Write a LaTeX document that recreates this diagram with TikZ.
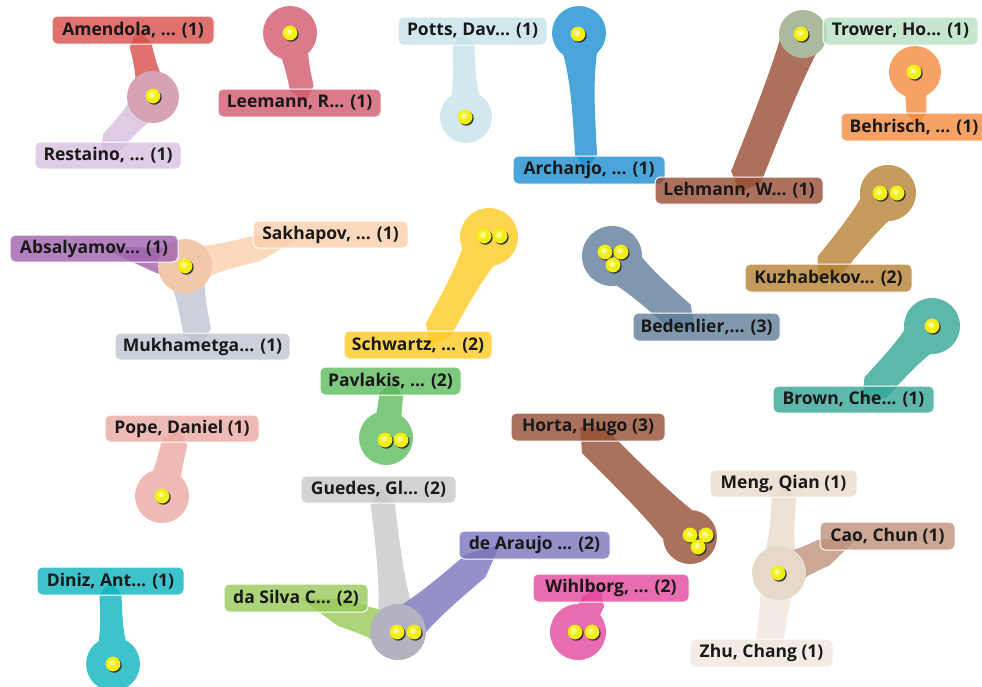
\documentclass[tikz,border=0pt]{standalone}
\usepackage{fontspec}
\setmainfont{Open Sans}
\usetikzlibrary{calc}
\pgfdeclarelayer{stems}
\pgfsetlayers{stems,main}
% base colours (boxes drawn at 80% opacity)
\definecolor{cAm}{HTML}{D84D4A}
\definecolor{cRe}{HTML}{D7BFDE}
\definecolor{cLe}{HTML}{D2596D}
\definecolor{cPo}{HTML}{C7E1EA}
\definecolor{cAr}{HTML}{1D90D1}
\definecolor{cTr}{HTML}{B8E0C3}
\definecolor{cLh}{HTML}{984C33}
\definecolor{cBe}{HTML}{F58B3D}
\definecolor{cKu}{HTML}{B58233}
\definecolor{cSa}{HTML}{FBCEAB}
\definecolor{cAb}{HTML}{9F63AE}
\definecolor{cMu}{HTML}{BEC4D1}
\definecolor{cSc}{HTML}{FFCA23}
\definecolor{cBd}{HTML}{607D98}
\definecolor{cBr}{HTML}{34A696}
\definecolor{cPa}{HTML}{5CBB5C}
\definecolor{cPp}{HTML}{EAA9A2}
\definecolor{cHo}{HTML}{954F33}
\definecolor{cMe}{HTML}{E8DBCA}
\definecolor{cCa}{HTML}{C0917C}
\definecolor{cZh}{HTML}{F0E7DD}
\definecolor{cGu}{HTML}{C8C8C8}
\definecolor{cDA}{HTML}{7974BB}
\definecolor{cDS}{HTML}{98C959}
\definecolor{cWi}{HTML}{E3469C}
\definecolor{cDi}{HTML}{0EB4BF}
% mixed circle colours
\definecolor{mA}{HTML}{D5A2B6}
\definecolor{mE}{HTML}{ABBA9C}
\definecolor{mH}{HTML}{F1C8AA}
\definecolor{mO}{HTML}{E6D9C9}
\definecolor{mP}{HTML}{B3B2C1}
\definecolor{ballY}{HTML}{F2EE10}
\tikzset{
  lab/.style={rounded corners=5pt, minimum height=28pt, inner sep=0pt,
    font=\bfseries\fontsize{17.5}{20}\selectfont, text=black!90,
    draw=white, line width=1pt, fill opacity=0.8, text opacity=1},
  blob/.style={circle, inner sep=0pt, minimum size=#1}
}
% tapered stem: colour, circle node, tip coordinate, half width at circle,
% body half width, length of the final taper
\newcommand\stem[6]{%
  \coordinate (sE) at ($(#3)!#6!(#2.center)$);
  \fill[#1!80] ($(#2.center)!#4!90:(#3)$)
    .. controls ($(#2.center)!0.25!(sE)!#5!90:(sE)$) and ($(#2.center)!0.6!(sE)!#5!90:(sE)$)
    .. ($(sE)!#5!-90:(#2.center)$) -- (#3) -- ($(sE)!#5!90:(#2.center)$)
    .. controls ($(#2.center)!0.6!(sE)!#5!-90:(sE)$) and ($(#2.center)!0.25!(sE)!#5!-90:(sE)$)
    .. ($(#2.center)!#4!-90:(#3)$) -- cycle;}
\newcommand\yball[1]{%
  \fill[black!80] ($(#1)+(1.3,1.3)$) circle (7.4pt);
  \fill[ballY] (#1) circle (7.4pt);
  \shade[inner color=yellow!25!white, outer color=ballY] ($(#1)+(-1.4,-1.4)$) circle (4.6pt);}
\begin{document}
\begin{tikzpicture}[x=1pt,y=-1pt]
\useasboundingbox (0,0) rectangle (982,686);
% circles
\node[blob=52pt, fill=mA] (nA) at (153,97) {};
\node[blob=54pt, fill=cLe!80] (nB) at (290,33) {};
\node[blob=52pt, fill=cPo!80] (nC) at (466,117) {};
\node[blob=54pt, fill=cAr!80] (nD) at (579,33) {};
\node[blob=48pt, fill=mE] (nE) at (803,34) {};
\node[blob=52pt, fill=cBe!80] (nF) at (915,72) {};
\node[blob=56pt, fill=cKu!80] (nG) at (888,193) {};
\node[blob=54pt, fill=mH] (nH) at (185,266) {};
\node[blob=58pt, fill=cSc!80] (nI) at (489,237) {};
\node[blob=60pt, fill=cBd!80] (nJ) at (612,256) {};
\node[blob=56pt, fill=cBr!80] (nK) at (932,326) {};
\node[blob=54pt, fill=cPa!80] (nL) at (386,438) {};
\node[blob=54pt, fill=cPp!80] (nM) at (162,496) {};
\node[blob=54pt, fill=cHo!80] (nN) at (690,537) {};
\node[blob=54pt, fill=mO] (nO) at (779,573) {};
\node[blob=56pt, fill=mP] (nP) at (398,632) {};
\node[blob=56pt, fill=cWi!80] (nQ) at (578,632) {};
\node[blob=54pt, fill=cDi!80] (nR) at (113,664) {};
% stem tips
\coordinate (tAm) at (137,30);
\coordinate (tRe) at (100,155);
\coordinate (tLe) at (305,103);
\coordinate (tPo) at (463,31);
\coordinate (tAr) at (587,170);
\coordinate (tLh) at (740,192);
\coordinate (tBe) at (917,127);
\coordinate (tKu) at (818,280);
\coordinate (tSa) at (300,238);
\coordinate (tAb) at (100,247);
\coordinate (tMu) at (200,347);
\coordinate (tSc) at (430,345);
\coordinate (tBd) at (695,330);
\coordinate (tBr) at (862,402);
\coordinate (tPa) at (393,381);
\coordinate (tPp) at (178,428);
\coordinate (tHo) at (580,427);
\coordinate (tMe) at (785,483);
\coordinate (tCa) at (860,536);
\coordinate (tZh) at (768,653);
\coordinate (tGu) at (381,489);
\coordinate (tDA) at (500,545);
\coordinate (tDS) at (300,598);
\coordinate (tWi) at (600,588);
\coordinate (tDi) at (110,581);
% stems, below the circles
\begin{pgfonlayer}{stems}
\stem{cAm}{nA}{tAm}{22pt}{11pt}{15pt}
\stem{cRe}{nA}{tRe}{22pt}{12pt}{18pt}
\stem{cLe}{nB}{tLe}{22pt}{12pt}{15pt}
\stem{cPo}{nC}{tPo}{22pt}{11pt}{15pt}
\stem{cAr}{nD}{tAr}{23pt}{11pt}{15pt}
\stem{cLh}{nE}{tLh}{21pt}{16pt}{16pt}
\stem{cBe}{nF}{tBe}{22pt}{10pt}{14pt}
\stem{cKu}{nG}{tKu}{23pt}{15pt}{18pt}
\stem{cSa}{nH}{tSa}{22pt}{13pt}{45pt}
\stem{cAb}{nH}{tAb}{22pt}{13pt}{60pt}
\stem{cMu}{nH}{tMu}{22pt}{14pt}{16pt}
\stem{cSc}{nI}{tSc}{24pt}{14pt}{17pt}
\stem{cBd}{nJ}{tBd}{25pt}{16pt}{20pt}
\stem{cBr}{nK}{tBr}{23pt}{15pt}{20pt}
\stem{cPa}{nL}{tPa}{22pt}{12pt}{14pt}
\stem{cPp}{nM}{tPp}{22pt}{13pt}{15pt}
\stem{cHo}{nN}{tHo}{23pt}{17pt}{20pt}
\stem{cMe}{nO}{tMe}{22pt}{12pt}{14pt}
\stem{cCa}{nO}{tCa}{22pt}{14pt}{40pt}
\stem{cZh}{nO}{tZh}{22pt}{14pt}{14pt}
\stem{cGu}{nP}{tGu}{23pt}{12pt}{14pt}
\stem{cDA}{nP}{tDA}{23pt}{15pt}{32pt}
\stem{cDS}{nP}{tDS}{23pt}{14pt}{45pt}
\stem{cWi}{nQ}{tWi}{23pt}{12pt}{15pt}
\stem{cDi}{nR}{tDi}{22pt}{11pt}{14pt}
\end{pgfonlayer}
% labels
\node[lab, fill=cAm, minimum width=162pt] (Am) at (133,30) {Amendola, ... (1)};
\node[lab, fill=cRe, minimum width=146pt, minimum height=27pt] (Re) at (108,155.5) {Restaino, ... (1)};
\node[lab, fill=cLe, minimum width=163pt] (Le) at (299.5,103) {Leemann, R... (1)};
\node[lab, fill=cPo, minimum width=149pt] (Po) at (472.5,31) {Potts, Dav... (1)};
\node[lab, fill=cAr, minimum width=152pt] (Ar) at (589,170) {Archanjo, ... (1)};
\node[lab, fill=cTr, minimum width=155pt] (Tr) at (900.5,31) {Trower, Ho... (1)};
\node[lab, fill=cLh, minimum width=168pt, minimum height=27pt] (Lh) at (739,190.5) {Lehmann, W... (1)};
\node[lab, fill=cBe, minimum width=146pt] (Be) at (914,127) {Behrisch, ... (1)};
\node[lab, fill=cKu, minimum width=167pt] (Ku) at (828.5,278) {Kuzhabekov... (2)};
\node[lab, fill=cSa, minimum width=155pt, minimum height=27pt] (Sa) at (330.5,234.5) {Sakhapov, ... (1)};
\node[lab, fill=cAb, minimum width=168pt, minimum height=27pt] (Ab) at (94,248.5) {Absalyamov... (1)};
\node[lab, fill=cMu, minimum width=175pt, minimum height=27pt] (Mu) at (202.5,346.5) {Mukhametga... (1)};
\node[lab, fill=cSc, minimum width=148pt] (Sc) at (418,345) {Schwartz, ... (2)};
\node[lab, fill=cBd, minimum width=147pt] (Bd) at (706.5,327) {Bedenlier,... (3)};
\node[lab, fill=cBr, minimum width=161pt, minimum height=27pt] (Br) at (853.5,399.5) {Brown, Che... (1)};
\node[lab, fill=cPa, minimum width=141pt] (Pa) at (390.5,381) {Pavlakis, ... (2)};
\node[lab, fill=cPp, minimum width=154pt, minimum height=27pt] (Pp) at (182,428.5) {Pope, Daniel (1)};
\node[lab, fill=cHo, minimum width=154pt] (Ho) at (588,427) {Horta, Hugo (3)};
\node[lab, fill=cMe, minimum width=147pt, minimum height=27pt] (Me) at (783.5,483.5) {Meng, Qian (1)};
\node[lab, fill=cCa, minimum width=135pt] (Ca) at (887.5,536) {Cao, Chun (1)};
\node[lab, fill=cZh, minimum width=143pt] (Zh) at (761.5,653) {Zhu, Chang (1)};
\node[lab, fill=cGu, minimum width=155pt, minimum height=27pt] (Gu) at (378.5,489.5) {Guedes, Gl... (2)};
\node[lab, fill=cDA, minimum width=151pt] (DA) at (534.5,545) {de Araujo ... (2)};
\node[lab, fill=cDS, minimum width=144pt] (DS) at (296,598) {da Silva C... (2)};
\node[lab, fill=cWi, minimum width=156pt] (Wi) at (611,588) {Wihlborg, ... (2)};
\node[lab, fill=cDi, minimum width=147pt] (Di) at (110.5,581) {Diniz, Ant... (1)};
% balls
\yball{153,96}
\yball{290,33}
\yball{465,117}
\yball{578,34}
\yball{801,34}
\yball{914,72}
\yball{880,193}\yball{897,193}
\yball{185,266}
\yball{484,236}\yball{500,236}
\yball{605,252}\yball{621,252}\yball{613,265}
\yball{932,326}
\yball{385,440}\yball{401,440}
\yball{162,496}
\yball{690,535}\yball{706,535}\yball{698,547}
\yball{778,573}
\yball{397,632}\yball{414,632}
\yball{575,632}\yball{592,632}
\yball{113,664}
\end{tikzpicture}
\end{document}
